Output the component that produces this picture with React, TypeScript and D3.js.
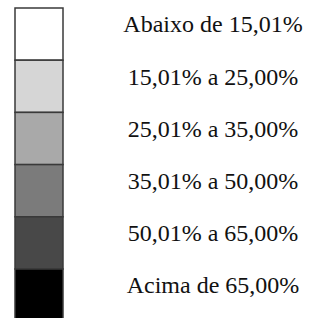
import * as d3 from 'd3';

const WIDTH = 310;
const HEIGHT = 318;

const LABELS = [
  'Abaixo de 15,01%',
  '15,01% a 25,00%',
  '25,01% a 35,00%',
  '35,01% a 50,00%',
  '50,01% a 65,00%',
  'Acima de 65,00%',
];
const FILLS = ['#ffffff', '#d6d6d6', '#a9a9a9', '#7b7b7b', '#484848', '#000000'];

export default function App() {
  const y = d3.scaleBand<string>().domain(LABELS).range([8, 8 + 6 * 52.2]).padding(0);
  const boxX = 15;
  const boxW = 48;

  return (
    <svg
      width={WIDTH}
      height={HEIGHT}
      style={{ position: 'absolute', left: 0, top: 0, background: '#fff' }}
    >
      {LABELS.map((label, i) => (
        <g key={label}>
          <rect
            x={boxX}
            y={y(label)!}
            width={boxW}
            height={y.bandwidth()}
            fill={FILLS[i]}
            stroke="#3a3a3a"
            strokeWidth={1.5}
          />
          <text
            x={213}
            y={y(label)! + 24.3}
            textAnchor="middle"
            fontFamily="'Liberation Serif', 'Times New Roman', serif"
            fontSize={24}
            fill="#111"
          >
            {label}
          </text>
        </g>
      ))}
    </svg>
  );
}
